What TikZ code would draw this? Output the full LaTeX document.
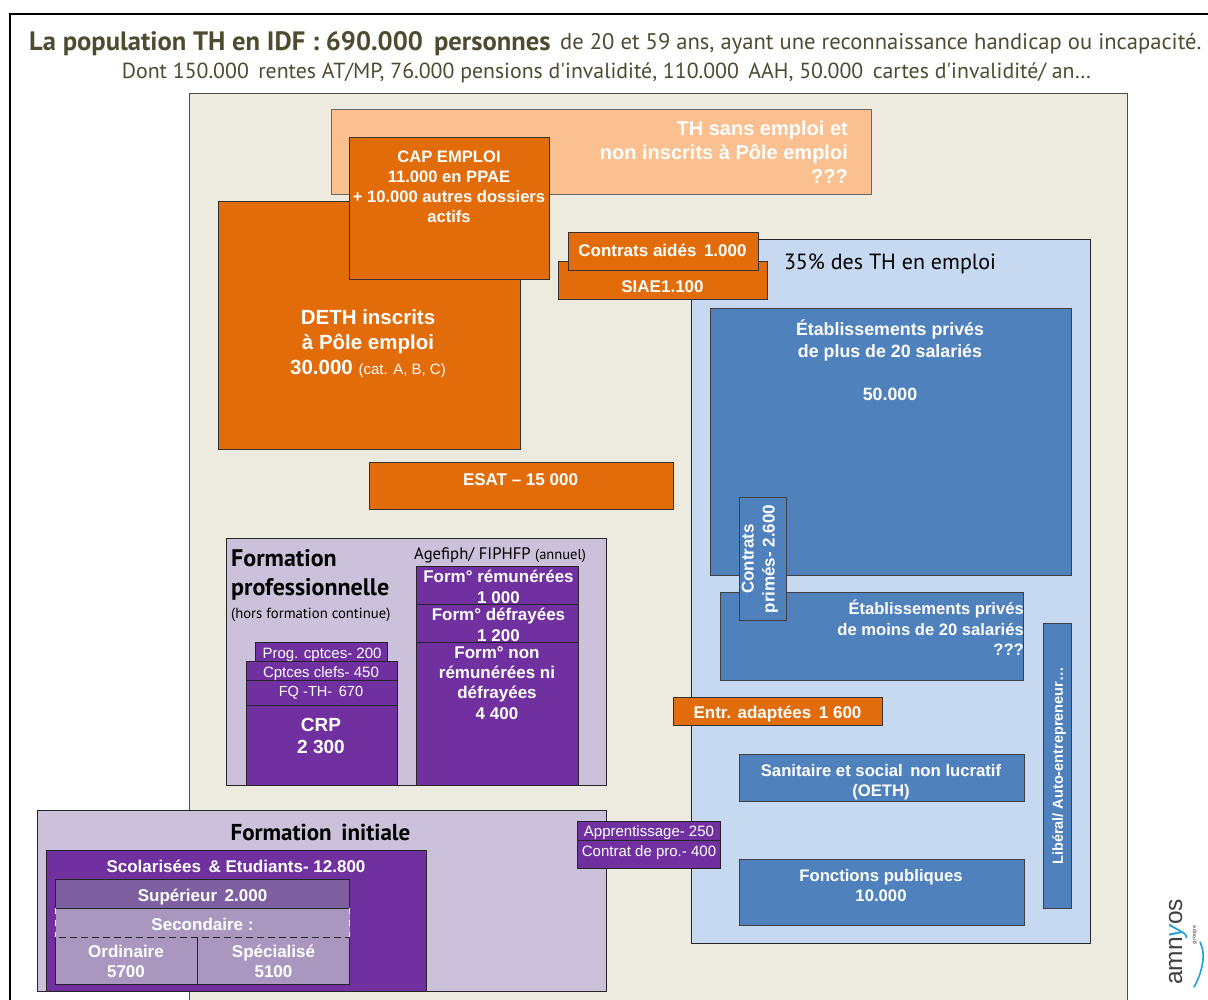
\documentclass[tikz,border=0pt]{standalone}
\usepackage{fontspec}
\setmainfont{Liberation Sans}
\newfontfamily\titlefont{PT Sans}
\definecolor{beige}{HTML}{EDEBE0}
\definecolor{peach}{HTML}{FAC090}
\definecolor{orangeb}{HTML}{E36C0A}
\definecolor{lightb}{HTML}{C6D9F1}
\definecolor{blueb}{HTML}{4F81BD}
\definecolor{purpleb}{HTML}{7030A0}
\definecolor{lav}{HTML}{CCC1DA}
\definecolor{midp}{HTML}{7E60A0}
\definecolor{softp}{HTML}{A997C0}
\definecolor{titlec}{HTML}{4F4B30}
\definecolor{logob}{HTML}{1E9FDA}
% \fs{size}{leading}
\newcommand{\fs}[2]{\fontsize{#1}{#2}\selectfont}
\newcommand{\bfs}[2]{\fontsize{#1}{#2}\selectfont\bfseries}
\tikzset{
  box/.style={draw=black!85,line width=1pt},
  peachb/.style={box,fill=peach,draw=black!60},
  orangebox/.style={box,fill=orangeb,draw=black!80},
  lightbox/.style={box,fill=lightb},
  bluebox/.style={box,fill=blueb,draw=black!75},
  purplebox/.style={box,fill=purpleb},
  lavbox/.style={box,fill=lav},
  lab/.style={inner sep=0pt,align=center,text=white},
  labr/.style={inner sep=0pt,align=right,text=white},
  dark/.style={inner sep=0pt,align=left,text=black},
  ttl/.style={inner sep=0pt,text=titlec,anchor=base west},
}
\begin{document}
\begin{tikzpicture}[x=1pt,y=-1pt]
\useasboundingbox (0,0) rectangle (1208,1000);
\clip (0,0) rectangle (1208,1000);
\fill[white] (0,0) rectangle (1208,1000);
% outer frame
\draw[black,line width=1.6pt] (10,1002) -- (10,14) -- (1210,14);
% backgrounds
\draw[box,fill=beige,draw=black!70] (189,94) rectangle (1127.5,1005);
\draw[peachb] (331,110) rectangle (871.5,195);
\draw[lightbox] (691,240) rectangle (1090,943);
% orange
\draw[orangebox] (218,202) rectangle (520.5,449);
\draw[orangebox] (349,138) rectangle (549,280);
\draw[orangebox] (558,262) rectangle (767,299.5);
\draw[orangebox] (568.5,233) rectangle (758,271);
\draw[orangebox] (369,462) rectangle (673,509);
% blue
\draw[bluebox] (710.5,309) rectangle (1071.5,575.5);
\draw[bluebox] (720,592) rectangle (1023.5,680.5);
\draw[bluebox] (739,497.5) rectangle (786.5,620.5);
\draw[bluebox] (1043,623) rectangle (1071,908);
\draw[orangebox] (673,697) rectangle (882,725);
\draw[bluebox] (739.5,754) rectangle (1024.5,801);
\draw[bluebox] (739.5,859) rectangle (1024.5,925);
% formation pro
\draw[lavbox] (226.5,538) rectangle (606.5,785);
\draw[purplebox] (416,566.5) rectangle (578,785);
\draw[box] (416,604.5) -- (578,604.5);
\draw[box] (416,642.5) -- (578,642.5);
\draw[purplebox] (255,642) rectangle (387,668);
\draw[purplebox] (246,661) rectangle (397.5,785);
\draw[box] (246,680) -- (397.5,680);
\draw[box] (246,705.5) -- (397.5,705.5);
% formation initiale
\draw[lavbox] (37,810) rectangle (606.5,991);
\draw[purplebox] (46,850) rectangle (426.5,991);
\fill[softp] (55.5,908) rectangle (349.5,984);
\draw[box,fill=midp] (55.5,879) rectangle (349.5,908);
\draw[box,dash pattern=on 7pt off 4pt] (55.5,908) -- (349.5,908);
\draw[box,dash pattern=on 7pt off 4pt] (59,937) -- (349.5,937);
\draw[white,line width=1pt,dash pattern=on 6pt off 6pt] (55.5,908) -- (55.5,937);
\draw[white,line width=1pt,dash pattern=on 6pt off 6pt] (349.5,908) -- (349.5,937);
\draw[box] (55.5,937) -- (55.5,984) -- (349.5,984) -- (349.5,937);
\draw[box] (197.5,937) -- (197.5,984);
% apprentissage
\draw[purplebox] (577.5,821) rectangle (720.5,868);
\draw[box] (577.5,840.5) -- (720.5,840.5);

% titles
\node[ttl,font=\bfs{26.6}{30}\titlefont] (t1) at (29,51) {La population TH en IDF : 690.000\, personnes};
\node[ttl,font=\fs{22.6}{26}\titlefont] (t2) at (560,50) {de 20 et 59 ans, ayant une reconnaissance handicap ou incapacité.};
\node[inner sep=0pt,text=titlec,font=\fs{21.8}{26}\titlefont] (t3) at (606.5,72.5) {Dont 150.000\, rentes AT/MP, 76.000 pensions d'invalidité, 110.000\, AAH, 50.000\, cartes d'invalidité/ an…};

% orange texts
\node[labr,anchor=east,font=\bfs{20}{24}] (thtxt) at (848,152) {TH sans emploi et\\non inscrits à Pôle emploi\\???};
\node[lab,font=\bfs{16.6}{20}] (captxt) at (449,187) {CAP EMPLOI\\11.000 en PPAE\\+ 10.000 autres dossiers\\actifs};
\node[lab,font=\bfs{20.5}{25}] (dethtxt) at (368,344) {DETH inscrits\\à Pôle emploi\\30.000 {\mdseries\fs{15}{25}(cat. A, B, C)}};
\node[lab,font=\bfs{17}{20}] (aides) at (662.5,250) {Contrats aidés\, 1.000};
\node[lab,font=\bfs{17}{20}] (siae) at (662.5,287) {SIAE1.100};
\node[lab,font=\bfs{17}{20}] (esat) at (520.5,480) {ESAT – 15 000};
% blue texts
\node[inner sep=0pt,text=black,font=\fs{22}{26}\titlefont] (pct) at (890,263.5) {35\% des TH en emploi};
\node[lab,font=\bfs{17.8}{22}] (plus20) at (890,360) {Établissements privés\\de plus de 20 salariés\\[21pt]50.000};
\node[lab,rotate=90,font=\bfs{17}{21}] (primes) at (760,559) {Contrats\\primés- 2.600};
\node[labr,anchor=east,font=\bfs{16.6}{20.5}] (moins20) at (1024,628) {Établissements privés\\de moins de 20 salariés\\???};
\node[lab,rotate=90,font=\bfs{14.5}{18}] (liberal) at (1059,766) {Libéral/ Auto-entrepreneur…};
\node[lab,font=\bfs{17}{20}] (ea) at (777.5,714) {Entr. adaptées\, 1 600};
\node[lab,font=\bfs{16.7}{20}] (sani) at (881,782) {Sanitaire et social\, non lucratif\\(OETH)};
\node[lab,font=\bfs{16.7}{20}] (fonc) at (881,885.5) {Fonctions publiques\\10.000};
% formation pro texts
\node[dark,anchor=west,font=\bfs{24}{29}\titlefont] (fp) at (231,574.5) {Formation\\professionnelle};
\node[dark,anchor=west,font=\fs{14.7}{18}\titlefont] (hors) at (231,614.5) {(hors formation continue)};
\node[dark,anchor=west,font=\fs{16.7}{20}\titlefont] (age) at (414,555) {Agefiph/ FIPHFP {\fs{14.5}{20}(annuel)}};
\node[lab,font=\bfs{17}{21}] (frem) at (498.5,586.5) {Form° rémunérées\\1 000};
\node[lab,font=\bfs{17}{21}] (fdef) at (498.5,624.5) {Form° défrayées\\1 200};
\node[lab,font=\bfs{17}{20.3}] (fnon) at (497,683) {Form° non\\rémunérées ni\\défrayées\\4 400};
\node[lab,font=\fs{15}{18}] (prog) at (322,655) {Prog. cptces- 200};
\node[lab,font=\fs{15}{18}] (clefs) at (321,674) {Cptces clefs- 450};
\node[lab,font=\fs{14.6}{18}] (fq) at (321,693) {FQ -TH-\, 670};
\node[lab,font=\bfs{19}{22}] (crp) at (321,736) {CRP\\2 300};
% formation initiale texts
\node[inner sep=0pt,text=black,font=\bfs{23}{26}\titlefont] (fi) at (320.5,832) {Formation\, initiale};
\node[lab,font=\bfs{17}{20}] (sco) at (236,866) {Scolarisées\, \& Etudiants- 12.800};
\node[lab,font=\bfs{17}{20}] (sup) at (202.5,897) {Supérieur\, 2.000};
\node[lab,font=\bfs{17}{20}] (sec) at (202.5,924.5) {Secondaire :};
\node[lab,font=\bfs{17}{20}] (ord) at (126,961) {Ordinaire\\5700};
\node[lab,font=\bfs{17}{20}] (spe) at (273.5,961) {Spécialisé\\5100};
\node[lab,font=\fs{15}{18}] (app) at (649,833) {Apprentissage- 250};
\node[lab,font=\fs{15}{18}] (pro) at (649,852.5) {Contrat de pro.- 400};
% logo
\node[inner sep=0pt,rotate=90,text=black!75,anchor=west,font=\fs{24.5}{26}] (logo) at (1178,985) {amn\textcolor{logob}{\itshape y}os};
\node[inner sep=0pt,rotate=90,text=black!55,font=\bfs{5.5}{7}] (grp) at (1195,935) {groupe};
\draw[logob,line width=1.6pt,line cap=round] (1194,987) .. controls (1201,975) and (1207,955) .. (1200,942);
\end{tikzpicture}
\end{document}
